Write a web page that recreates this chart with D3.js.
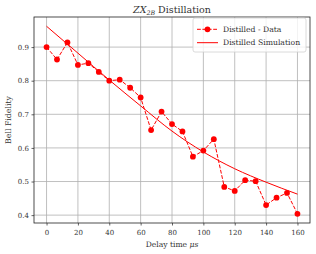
<!DOCTYPE html>
<html>
<head>
<meta charset="utf-8">
<script src="https://d3js.org/d3.v7.min.js"></script>
<style>
  body { margin: 0; background: #fff; }
  text { font-family: "DejaVu Serif", serif; fill: #333; }
</style>
</head>
<body>
<div id="chart"></div>
<script>
// measured data (delay in us, Bell fidelity)
const delays = [0, 6.67, 13.33, 20, 26.67, 33.33, 40, 46.67, 53.33, 60, 66.67, 73.33, 80,
                86.67, 93.33, 100, 106.67, 113.33, 120, 126.67, 133.33, 140, 146.67, 153.33, 160];
const fidelity = [0.900, 0.863, 0.914, 0.847, 0.852, 0.826, 0.800, 0.803, 0.779, 0.750, 0.653, 0.708, 0.671,
                  0.649, 0.574, 0.592, 0.626, 0.484, 0.472, 0.504, 0.501, 0.430, 0.452, 0.466, 0.404];
// simulation curve
const simDelays = [0, 20, 40, 60, 80, 100, 120, 140, 160];
const simFidelity = [0.962, 0.882, 0.802, 0.725, 0.650, 0.588, 0.538, 0.498, 0.4625];
const xTicks = [0, 20, 40, 60, 80, 100, 120, 140, 160];
const yTicks = [0.4, 0.5, 0.6, 0.7, 0.8, 0.9];

const W = 316, H = 254;
const margin = { top: 17, right: 6, bottom: 31, left: 34 };
const width = W - margin.left - margin.right,
      height = H - margin.top - margin.bottom;

const svg = d3.select("#chart").append("svg")
    .attr("width", W).attr("height", H);
const g = svg.append("g").attr("transform", `translate(${margin.left},${margin.top})`);

const x = d3.scaleLinear().domain([-8, 168]).range([0, width]);
const y = d3.scaleLinear().domain([0.3766, 0.9895]).range([height, 0]);

// grid
g.append("g").selectAll("line").data(xTicks).enter().append("line")
    .attr("x1", d => x(d)).attr("x2", d => x(d)).attr("y1", 0).attr("y2", height)
    .attr("stroke", "#b0b0b0").attr("stroke-width", 0.8);
g.append("g").selectAll("line").data(yTicks).enter().append("line")
    .attr("y1", d => y(d)).attr("y2", d => y(d)).attr("x1", 0).attr("x2", width)
    .attr("stroke", "#b0b0b0").attr("stroke-width", 0.8);

// axes
const xAxis = g.append("g").attr("transform", `translate(0,${height})`)
    .call(d3.axisBottom(x).tickValues(xTicks).tickSize(2.5).tickPadding(2).tickSizeOuter(0));
const yAxis = g.append("g")
    .call(d3.axisLeft(y).tickValues(yTicks).tickFormat(d3.format(".1f")).tickSize(2.5).tickPadding(2.5).tickSizeOuter(0));
[xAxis, yAxis].forEach(a => {
    a.select(".domain").remove();
    a.selectAll("line").attr("stroke", "#222").attr("stroke-width", 0.7);
    a.selectAll("text").style("font-size", "7px").attr("fill", "#333");
});
xAxis.selectAll("text").attr("dy", "1em");

// frame
g.append("rect").attr("width", width).attr("height", height)
    .attr("fill", "none").attr("stroke", "#222").attr("stroke-width", 0.8);

// simulation line
g.append("path")
    .datum(simDelays.map((d, i) => [d, simFidelity[i]]))
    .attr("fill", "none").attr("stroke", "red").attr("stroke-width", 1)
    .attr("d", d3.line().x(d => x(d[0])).y(d => y(d[1])).curve(d3.curveMonotoneX));

// data line + markers
const pts = delays.map((d, i) => [d, fidelity[i]]);
g.append("path").datum(pts)
    .attr("fill", "none").attr("stroke", "red").attr("stroke-width", 1)
    .attr("stroke-dasharray", "3.8,1.6")
    .attr("d", d3.line().x(d => x(d[0])).y(d => y(d[1])));
g.append("g").selectAll("circle").data(pts).enter().append("circle")
    .attr("cx", d => x(d[0])).attr("cy", d => y(d[1])).attr("r", 2.9)
    .attr("fill", "red");

// legend
const lg = g.append("g").attr("transform", `translate(${193 - margin.left},${18 - margin.top})`);
lg.append("rect").attr("width", 113).attr("height", 34).attr("rx", 2)
    .attr("fill", "white").attr("fill-opacity", 0.8).attr("stroke", "#d0d0d0").attr("stroke-width", 0.8);
lg.append("line").attr("x1", 4).attr("x2", 25).attr("y1", 11.3).attr("y2", 11.3)
    .attr("stroke", "red").attr("stroke-width", 1).attr("stroke-dasharray", "3.8,1.6");
lg.append("circle").attr("cx", 14.5).attr("cy", 11.3).attr("r", 2.9).attr("fill", "red");
lg.append("line").attr("x1", 4).attr("x2", 25).attr("y1", 24.7).attr("y2", 24.7)
    .attr("stroke", "red").attr("stroke-width", 1);
lg.append("text").attr("x", 30).attr("y", 11.3).attr("dy", "0.35em").style("font-size", "7.7px").text("Distilled - Data");
lg.append("text").attr("x", 30).attr("y", 24.7).attr("dy", "0.35em").style("font-size", "7.7px").text("Distilled Simulation");

// title
const title = svg.append("text").attr("x", margin.left + width / 2).attr("y", 13)
    .attr("text-anchor", "middle").style("font-size", "9.5px");
title.append("tspan").style("font-style", "italic").text("ZX");
title.append("tspan").style("font-style", "italic").style("font-size", "6.3px").attr("dy", 1.8).text("2B");
title.append("tspan").attr("dy", -1.8).text(" Distillation");

// axis labels
const xl = svg.append("text").attr("x", margin.left + width / 2).attr("y", 247)
    .attr("text-anchor", "middle").style("font-size", "7.6px");
xl.append("tspan").text("Delay time ");
xl.append("tspan").style("font-style", "italic").text("μs");

svg.append("text").attr("transform", `translate(11,${margin.top + height / 2}) rotate(-90)`)
    .attr("text-anchor", "middle").style("font-size", "7.8px").text("Bell Fidelity");
</script>
</body>
</html>
